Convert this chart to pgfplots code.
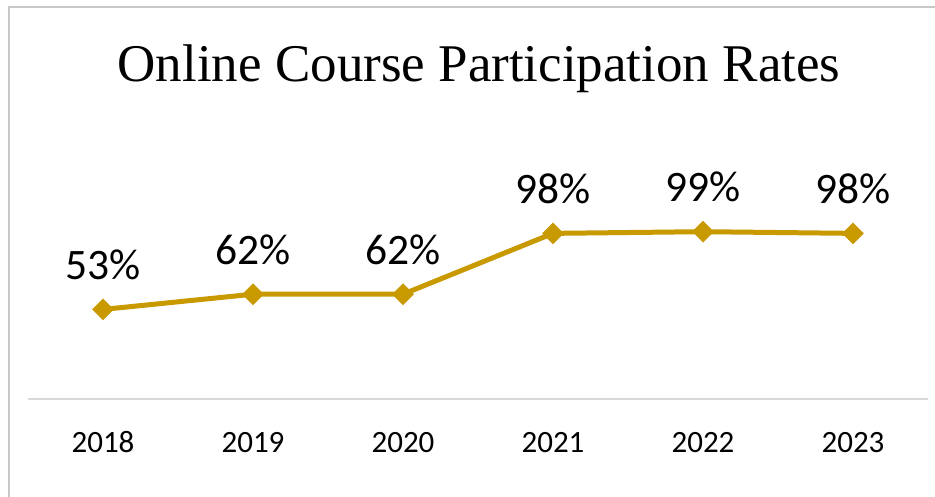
\documentclass[border=0pt]{standalone}
\usepackage{fontspec}
\setmainfont{Carlito}
\newfontfamily\titlefont{Liberation Serif}
\usepackage{pgfplots}
\pgfplotsset{compat=1.18}
\definecolor{gold}{RGB}{201,154,0}
\definecolor{axgray}{RGB}{217,217,217}
\definecolor{bordergray}{RGB}{200,200,200}
\begin{document}
\begin{tikzpicture}[x=1bp,y=1bp]
\useasboundingbox[fill=white] (0,0) rectangle (935,497);
\draw[bordergray,line width=2bp] (9,0) -- (9,490) -- (935,490);
\node[anchor=base, font=\titlefont\fontsize{53bp}{62bp}\selectfont] at (479,415) {Online Course Participation Rates};
\coordinate (A) at (28,98);
\begin{axis}[
  at={(A)}, anchor=south west,
  scale only axis, width=900bp, height=202.8bp,
  xmin=-0.5, xmax=5.5, ymin=0, ymax=120,
  axis y line=none,
  axis x line*=bottom,
  x axis line style={axgray, line width=2bp, -},
  xtick={0,1,2,3,4,5},
  xticklabels={2018,2019,2020,2021,2022,2023},
  major tick length=0pt,
  xticklabel style={anchor=base, yshift=-54bp, font=\fontsize{31bp}{37bp}\selectfont},
  clip=false,
  nodes near coords={\pgfmathprintnumber[assume math mode=true]{\pgfplotspointmeta}\%},
  every node near coord/.append style={anchor=base, yshift=30bp, font=\fontsize{43.5bp}{52bp}\selectfont, black},
]
\addplot[gold, line width=5bp, mark=square*, mark size=7.4bp, mark options={rotate=45, fill=gold, draw=gold, line width=0.5bp}] coordinates {
(0,53) (1,62) (2,62) (3,98) (4,99) (5,98)
};
\end{axis}
\end{tikzpicture}
\end{document}
